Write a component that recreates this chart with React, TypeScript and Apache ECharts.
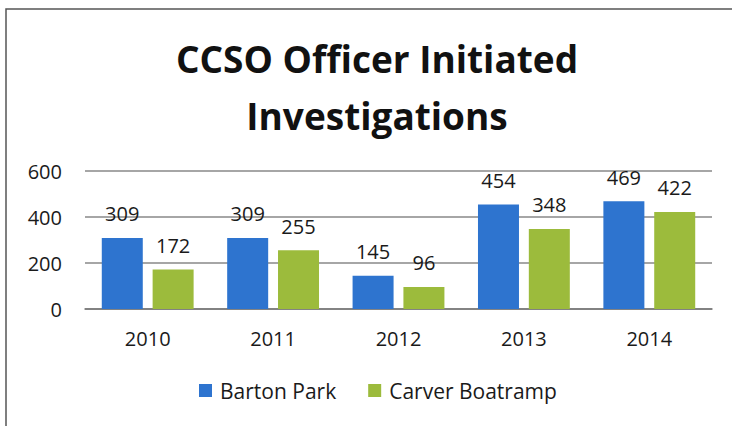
import React, { useEffect, useRef } from "react";
import * as echarts from "echarts";

const categories = ["2010", "2011", "2012", "2013", "2014"];
const bartonPark = [309, 309, 145, 454, 469];
const carverBoatramp = [172, 255, 96, 348, 422];
const seriesNames = ["Barton Park", "Carver Boatramp"];
const titleText = "CCSO Officer Initiated\nInvestigations";

const FONT = "Open Sans";

export default function App() {
  const ref = useRef<HTMLDivElement>(null);
  useEffect(() => {
    if (!ref.current) return;
    const chart = echarts.init(ref.current, null, { renderer: "svg" });
    const label = {
      show: true,
      position: "top" as const,
      distance: 14,
      color: "#1a1a1a",
      fontSize: 20,
      fontFamily: FONT,
    };
    chart.setOption({
      animation: false,
      backgroundColor: "#ffffff",
      title: {
        text: titleText,
        left: 372,
        top: 25,
        textAlign: "center",
        textStyle: {
          fontFamily: FONT,
          fontWeight: "bold",
          fontSize: 37,
          lineHeight: 57,
          color: "#111111",
        },
      },
      graphic: [
        {
          type: "polyline",
          shape: { points: [[6, 426], [6, 9], [732, 9]] },
          style: { fill: "none", stroke: "#555", lineWidth: 1.5 },
          silent: true,
        },
      ],
      legend: {
        bottom: 20,
        left: 194,
        itemWidth: 13,
        itemHeight: 13,
        itemGap: 32,
        icon: "rect",
        textStyle: {
          fontFamily: FONT,
          fontSize: 21,
          color: "#1a1a1a",
          padding: [0, 0, 0, 3],
        },
        data: seriesNames,
      },
      grid: { left: 85, right: 20, top: 171, bottom: 117 },
      xAxis: {
        type: "category",
        data: categories,
        axisLine: { show: true, lineStyle: { color: "#777", width: 1.5 } },
        axisTick: { show: false },
        axisLabel: {
          fontFamily: FONT,
          fontSize: 20,
          color: "#1a1a1a",
          margin: 19,
        },
      },
      yAxis: {
        type: "value",
        min: 0,
        max: 600,
        interval: 200,
        axisLine: { show: false },
        axisTick: { show: false },
        axisLabel: {
          fontFamily: FONT,
          fontSize: 20,
          color: "#1a1a1a",
          margin: 23,
        },
        splitLine: { lineStyle: { color: "#888", width: 1.5 } },
      },
      series: [
        {
          name: seriesNames[0],
          type: "bar",
          data: bartonPark,
          barWidth: 41,
          barGap: "24%",
          itemStyle: { color: "#2e74cf" },
          label,
        },
        {
          name: seriesNames[1],
          type: "bar",
          data: carverBoatramp,
          barWidth: 41,
          itemStyle: { color: "#9cbb3c" },
          label,
        },
      ],
    });
    return () => chart.dispose();
  }, []);
  return (
    <div
      ref={ref}
      style={{ width: 732, height: 426, position: "absolute", left: 0, top: 0 }}
    />
  );
}
